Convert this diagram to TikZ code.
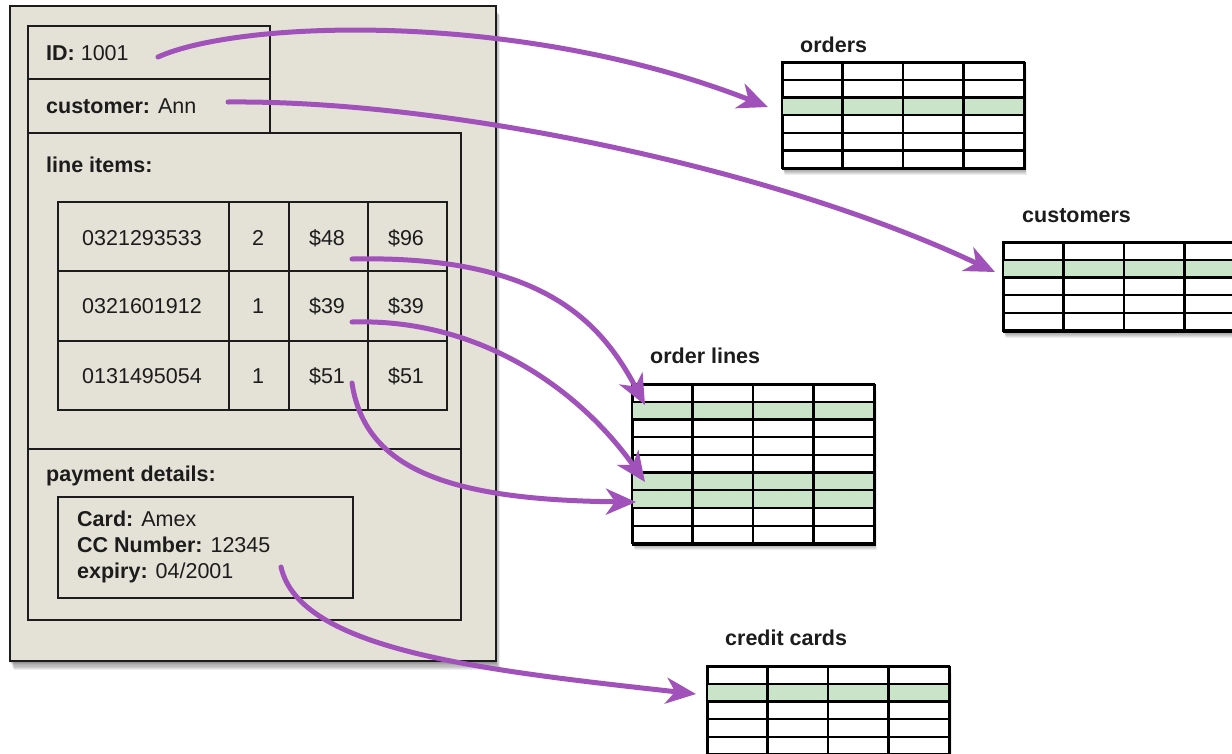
\documentclass[tikz,border=0pt]{standalone}
\usepackage{fontspec}
\setmainfont{Liberation Sans}
\usetikzlibrary{arrows.meta}
\definecolor{beige}{RGB}{228,226,214}
\definecolor{rowgreen}{RGB}{201,228,201}
\definecolor{arrowpurple}{RGB}{160,82,186}
\definecolor{ink}{RGB}{28,28,28}
\newcommand\dbtab[5]{%
  \begin{scope}[shift={(#2,#3)}]
    \pgfmathsetmacro\tabh{#4*17.7}
    \foreach \k in {1,...,7}
      \fill[black,opacity=0.07] (\k*0.4,\k*1.0) rectangle (242+\k*0.4,\tabh+\k*1.0);
    \node[tabframe, minimum width=242pt, minimum height=\tabh pt, anchor=north west] (#1) at (0,0) {};
    \foreach \g in {#5}
      \fill[rowgreen] (0,{(\g-1)*17.7}) rectangle (242,{\g*17.7});
    \pgfmathtruncatemacro\nr{#4-1}
    \foreach \r in {1,...,\nr}
      \draw[tabline] (0,{\r*17.7}) -- (242,{\r*17.7});
    \foreach \c in {1,2,3}
      \draw[tabline] ({\c*60.5},0) -- ({\c*60.5},\tabh);
    \draw[tabline] (0,0) rectangle (242,\tabh);
  \end{scope}}
\begin{document}
\begin{tikzpicture}[x=1pt,y=-1pt,
  lbl/.style={anchor=base west, inner sep=0pt, font=\fontsize{21.5}{26}\selectfont, text=ink},
  cell/.style={anchor=base, inner sep=0pt, font=\fontsize{21.5}{26}\selectfont, text=ink},
  ttl/.style={anchor=base west, inner sep=0pt, font=\fontsize{21.5}{26}\selectfont\bfseries, text=ink},
  boxline/.style={draw=ink, line width=1.5pt},
  tabframe/.style={draw=black, fill=white, line width=2.2pt, inner sep=0pt},
  tabline/.style={draw=black, line width=2.2pt},
  link/.style={draw=arrowpurple, line width=5pt, line cap=round, -{Stealth[length=30pt,width=26pt,inset=9pt]}}]
\useasboundingbox (0,0) rectangle (1232,753);
\fill[white] (0,0) rectangle (1232,753);
\clip (0,0) rectangle (1232,753);

% outer document box with shadow
\foreach \k in {1,...,8}
  \fill[black,opacity=0.07] (9+\k*0.6,5+\k*1.3) rectangle (495+\k*0.6,660+\k*1.3);
\node[boxline, fill=beige, minimum width=486pt, minimum height=655pt, anchor=north west, inner sep=0pt] (doc) at (9,5) {};

% ID / customer box
\draw[boxline] (28,26) rectangle (270,79);
\draw[boxline] (28,79) rectangle (270,133);
\node[lbl] (idtxt) at (46,60) {\textbf{ID:} 1001};
\node[lbl] (custtxt) at (46,113) {\textbf{customer:} Ann};

% line items
\draw[boxline] (28,133) rectangle (461,449);
\node[lbl] (litxt) at (46,172) {\textbf{line items:}};
\draw[boxline] (58,202) rectangle (447,410);
\foreach \xx in {229,289,368} \draw[boxline] (\xx,202) -- (\xx,410);
\foreach \yy in {271,341} \draw[boxline] (58,\yy) -- (447,\yy);
\node[cell] (i1) at (142,245) {0321293533};
\node[cell] (q1) at (258,245) {2};
\node[cell] (p1) at (327,245) {\$48};
\node[cell] (t1) at (406,245) {\$96};
\node[cell] (i2) at (142,313) {0321601912};
\node[cell] (q2) at (258,313) {1};
\node[cell] (p2) at (327,313) {\$39};
\node[cell] (t2) at (406,313) {\$39};
\node[cell] (i3) at (142,383) {0131495054};
\node[cell] (q3) at (258,383) {1};
\node[cell] (p3) at (327,383) {\$51};
\node[cell] (t3) at (406,383) {\$51};

% payment details
\draw[boxline] (28,449) rectangle (461,620);
\node[lbl] (pdtxt) at (46,481) {\textbf{payment details:}};
\draw[boxline] (58,497) rectangle (353,598);
\node[lbl] (card) at (77,526) {\textbf{Card:} Amex};
\node[lbl] (ccn) at (77,552) {\textbf{CC Number:} 12345};
\node[lbl] (exp) at (77,578) {\textbf{expiry:} 04/2001};

% tables
\node[ttl] (ordersttl) at (800,52) {orders};
\dbtab{orders}{782}{62}{6}{3}
\node[ttl] (custttl) at (1022,222) {customers};
\dbtab{customers}{1003}{242}{5}{2}
\node[ttl] (olttl) at (650,363) {order lines};
\dbtab{orderlines}{632}{384}{9}{2,6,7}
\node[ttl] (ccttl) at (725,645) {credit cards};
\dbtab{creditcards}{707}{666}{6}{2}

% connector end points
\coordinate (s1) at (158,57);
\coordinate (e1) at (768,107);
\coordinate (s2) at (228,102);
\coordinate (e2) at (995,272);
\coordinate (s3) at (352,259);
\coordinate (e3) at (645,405);
\coordinate (s4) at (352,322);
\coordinate (e4) at (645,482);
\coordinate (s5) at (352,383);
\coordinate (e5) at (636,502);
\coordinate (s6) at (281,567);
\coordinate (e6) at (696,694);

\draw[link] (s1) .. controls (240,20) and (520,10) .. (e1);
\draw[link] (s2) .. controls (450,100) and (780,170) .. (e2);
\draw[link] (s3) .. controls (540,255) and (600,320) .. (e3);
\draw[link] (s4) .. controls (480,318) and (580,390) .. (e4);
\draw[link] (s5) .. controls (365,470) and (450,500) .. (e5);
\draw[link] (s6) .. controls (300,650) and (480,670) .. (e6);
\end{tikzpicture}
\end{document}
